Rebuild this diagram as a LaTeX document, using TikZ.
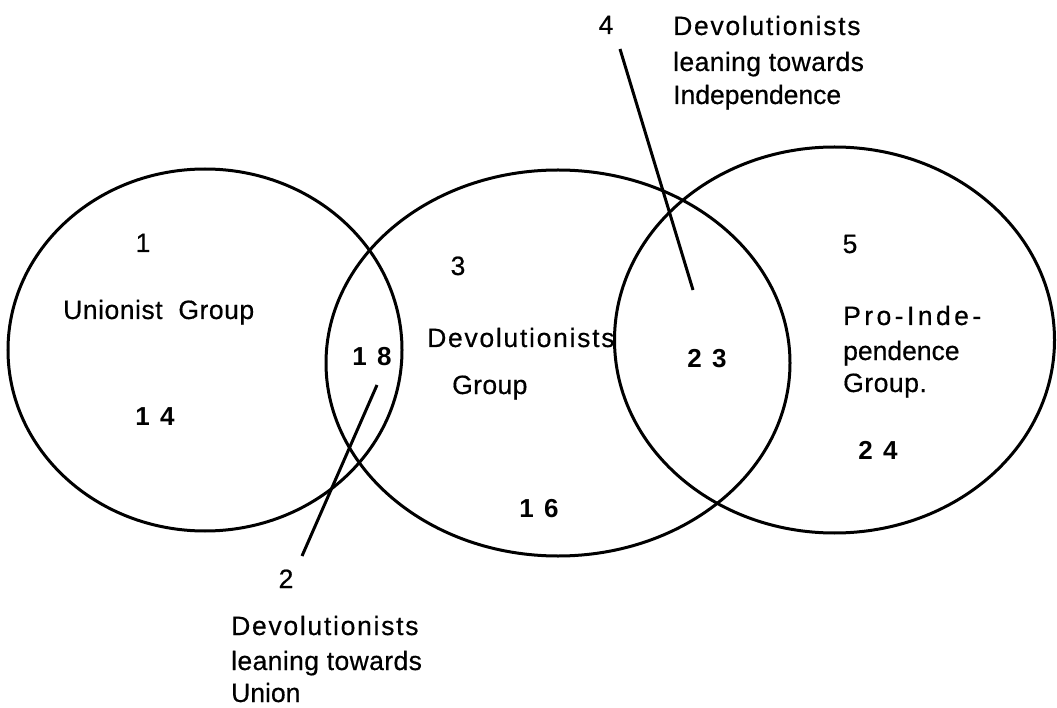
\documentclass[tikz,border=0pt]{standalone}
\usepackage{fontspec}
\setmainfont{Liberation Sans}[UprightFeatures={FakeBold=0.5}]
\newcommand{\lsp}[2]{{\addfontfeature{LetterSpace=#1}#2}}
\tikzset{
  venn/.style={draw=black, line width=3pt},
  leader/.style={draw=black, line width=3pt},
  lbl/.style={inner sep=0pt, anchor=base west, font=\fontsize{26.5}{34}\selectfont},
  num/.style={inner sep=0pt, anchor=base, font=\fontsize{26.5}{34}\selectfont},
  bnum/.style={inner sep=0pt, anchor=base, font=\fontsize{26}{34}\selectfont\bfseries},
}
\begin{document}
\begin{tikzpicture}[x=1pt,y=-1pt]
\useasboundingbox (0,0) rectangle (1057,708);
% circles
\draw[venn] (205,350) ellipse [x radius=197pt, y radius=181pt];
\draw[venn] (558,363) ellipse [x radius=232pt, y radius=193pt];
\draw[venn] (834.5,340) ellipse [x radius=220pt, y radius=193pt];
% leader lines
\coordinate (l2a) at (302,556);
\coordinate (l2b) at (377,385);
\coordinate (l4a) at (620,49);
\coordinate (l4b) at (693,290);
\draw[leader] (l2a) -- (l2b);
\draw[leader] (l4a) -- (l4b);
% left group
\node[num] (n1) at (143,252) {1};
\node[lbl] (ug) at (63,319) {\lsp{2}{Unionist\ \ Group}};
\node[bnum] (n14) at (155,425) {1\hspace{0.4em}4};
\node[bnum] (n18) at (372,366) {1\hspace{0.4em}8};
% middle group
\node[num] (n3) at (458,275) {3};
\node[lbl] (dg1) at (427,347) {\lsp{6.5}{Devolutionists}};
\node[lbl] (dg2) at (452,394) {\lsp{1.5}{Group}};
\node[bnum] (n23) at (707,367) {2\hspace{0.4em}3};
\node[bnum] (n16) at (539,517) {1\hspace{0.4em}6};
% right group
\node[num] (n5) at (850,253) {5};
\node[lbl] (pi1) at (843,325) {\lsp{13}{Pro-Inde-}};
\node[lbl] (pi2) at (843,360) {pendence};
\node[lbl] (pi3) at (843,392) {\lsp{2}{Group.}};
\node[bnum] (n24) at (878,459) {2\hspace{0.4em}4};
% bottom label
\node[num] (n2) at (286,588) {2};
\node[lbl] (du1) at (231,635) {\lsp{6.5}{Devolutionists}};
\node[lbl] (du2) at (231,670) {\lsp{1.5}{leaning\ towards}};
\node[lbl] (du3) at (231,702) {Union};
% top label
\node[num] (n4) at (606,34) {4};
\node[lbl] (di1) at (673,35) {\lsp{6.5}{Devolutionists}};
\node[lbl] (di2) at (673,71) {\lsp{1.5}{leaning\ towards}};
\node[lbl] (di3) at (673,104) {Independence};
\end{tikzpicture}
\end{document}
